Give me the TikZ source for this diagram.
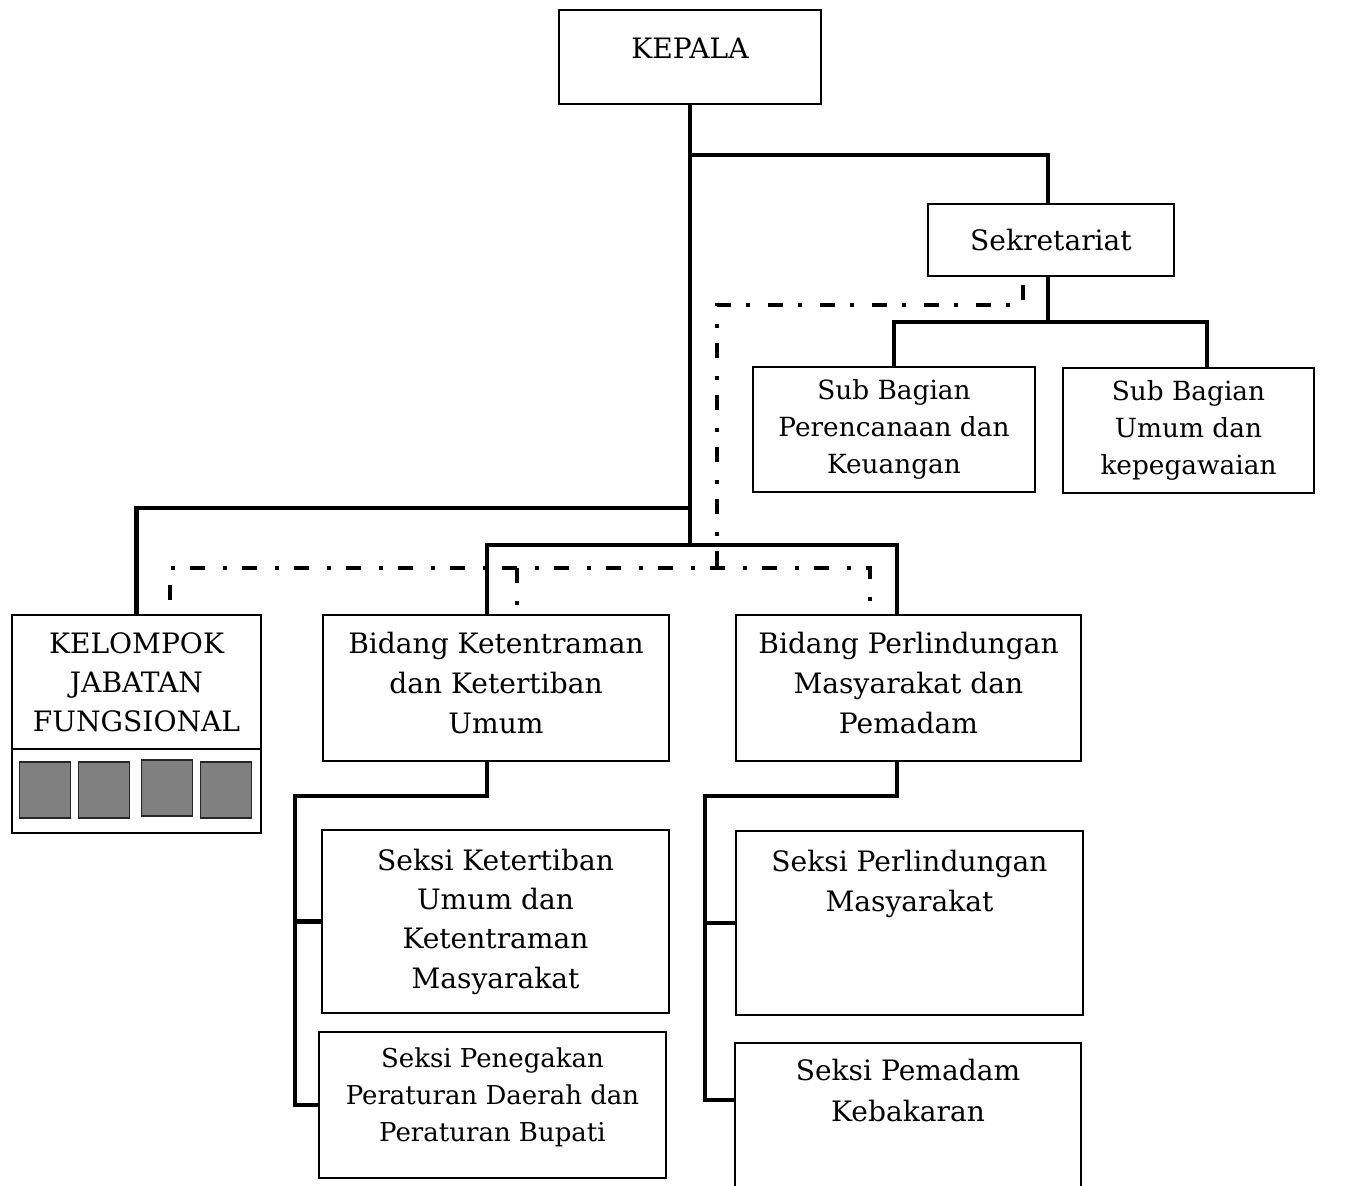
\documentclass[tikz,border=0pt]{standalone}
\usepackage{fontspec}
\setmainfont{DejaVu Serif}
\usetikzlibrary{positioning}

\begin{document}
\begin{tikzpicture}[x=0.02cm, y=-0.02cm,
        unit/.style = {draw, line width=1.1pt, inner sep=0pt, align=center, font=\fontsize{16}{22.7}\selectfont},
        ukuran/.style 2 args = {minimum width=#1*0.02cm, minimum height=#2*0.02cm},
        teks/.style = {inner sep=0pt, align=center, font=\fontsize{16}{23}\selectfont},
        conn/.style = {line width=2.4pt},
        staf/.style = {line width=2.4pt, dash pattern=on 0.3cm off 0.36cm on 0.08cm off 0.3cm},
        kotak/.style = {draw=black!85, fill=black!50, line width=0.8pt, minimum width=1.02cm, minimum height=1.12cm, inner sep=0pt}]
    \useasboundingbox (0,0) rectangle (1353,1186);
    \clip (0,0) rectangle (1353,1186);

    \node[unit, ukuran={262}{94}, text depth=0.36cm] (kepala) at (690,57) {KEPALA};
    \node[unit, ukuran={246}{72}] (sekr) at (1051,240) {Sekretariat};
    \node[unit, ukuran={282}{125}, font=\fontsize{15}{20.9}\selectfont] (sbpk) at (894,429.5) {Sub Bagian\\Perencanaan dan\\Keuangan};
    \node[unit, ukuran={251}{125}, font=\fontsize{15}{20.9}\selectfont] (sbuk) at (1188.5,430.5) {Sub Bagian\\Umum dan\\kepegawaian};

    \node[unit, ukuran={249}{134}, font=\fontsize{16}{22.2}\selectfont] (kjf) at (136.5,682) {KELOMPOK\\JABATAN\\FUNGSIONAL};
    \node[unit, ukuran={249}{84}] (kjfbawah) at (136.5,791) {};
    \foreach \cx/\cy [count=\i] in {45/790, 104/790, 167/788, 226/790}
        \node[kotak] (jf\i) at (\cx,\cy) {};

    \node[unit, ukuran={346}{146}, text depth=0.2cm] (bkt) at (496,688) {Bidang Ketentraman\\dan Ketertiban\\Umum};
    \node[unit, ukuran={345}{146}, text depth=0.2cm] (bpm) at (908.5,688) {Bidang Perlindungan\\Masyarakat dan\\Pemadam};

    \node[unit, ukuran={347}{183}, font=\fontsize{16}{22.4}\selectfont] (sktm) at (495.5,921.5) {Seksi Ketertiban\\Umum dan\\Ketentraman\\Masyarakat};
    \node[unit, ukuran={347}{146}, font=\fontsize{14.8}{21}\selectfont, text depth=0.4cm] (sppd) at (492.5,1105) {Seksi Penegakan\\Peraturan Daerah dan\\Peraturan Bupati};
    \node[unit, ukuran={347}{184}] (sperl) at (909.5,923) {};
    \node[teks] (sperlteks) at ([yshift=-1.08cm]sperl.north) {Seksi Perlindungan\\Masyarakat};
    \node[unit, ukuran={346}{187}] (spk) at (908,1136.5) {};
    \node[teks] (spkteks) at ([yshift=-0.97cm]spk.north) {Seksi Pemadam\\Kebakaran};

    \coordinate (cabang) at (690,545);
    \coordinate (tsekr) at (690,155);
    \coordinate (tkjf) at (690,508);
    \draw[conn] (kepala.south) -- (cabang);
    \draw[conn] (tsekr) -| ([xshift=-0.06cm]sekr.north);
    \draw[conn] ([xshift=-0.06cm]sekr.south) -- ++(0,47);
    \draw[conn] (sbpk.north) -- ++(0,-44) -| ([xshift=0.37cm]sbuk.north);
    \draw[conn] (tkjf) -| (kjf.north);
    \draw[conn] ([xshift=-0.18cm]bkt.north) |- (cabang) -| ([xshift=-0.23cm]bpm.north);

    \draw[conn] ([xshift=-0.18cm]bkt.south) -- ++(0,34) -- ++(-192,0) |- (sppd.west);
    \draw[conn] (sktm.west) -- ++(-27,0);
    \draw[conn] ([xshift=-0.23cm]bpm.south) -- ++(0,34) -- ++(-192,0) |- ([yshift=-1.16cm]spk.north west);
    \draw[conn] (sperl.west) -- ++(-31,0);

    \coordinate (staf1) at (1023,285);
    \coordinate (staf2) at (717,305);
    \coordinate (staf3) at (717,568);
    \coordinate (staf4) at (170,600);
    \coordinate (staf5) at (870,606);
    \coordinate (staf6) at (517,607);
    \draw[staf] (staf1) |- (staf2) -- (staf3);
    \draw[staf] (staf4) |- (staf3) -| (staf5);
    \draw[staf] (staf3 -| staf6) -- (staf6);
\end{tikzpicture}
\end{document}
